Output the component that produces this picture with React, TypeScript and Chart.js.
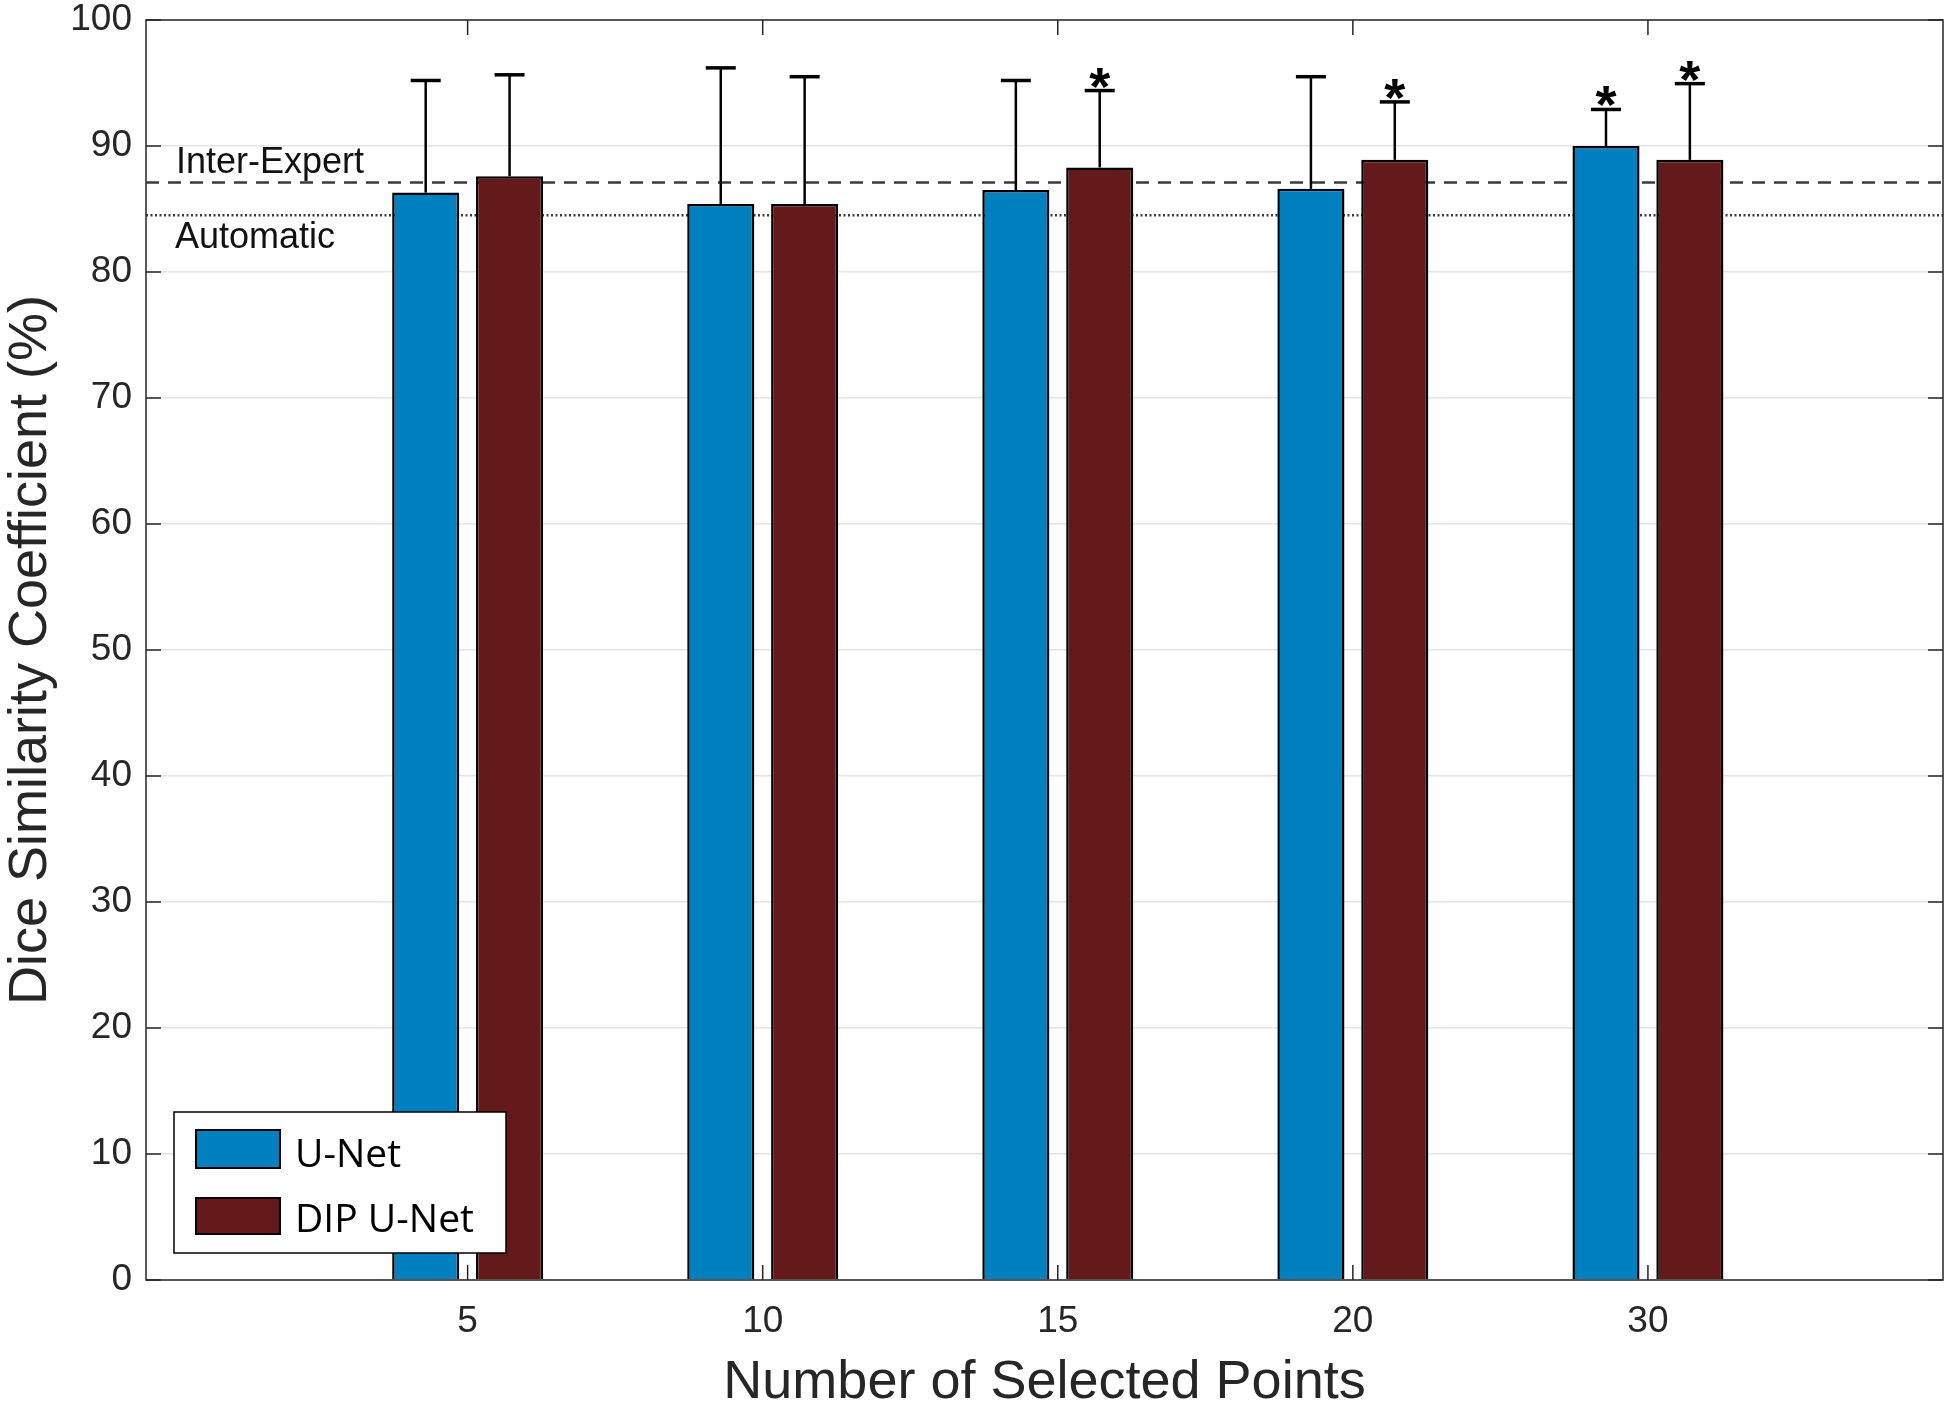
import React, { useEffect, useRef } from 'react';
import { Chart, registerables } from 'chart.js';

Chart.register(...registerables);

// ---- data ----
const categories = ['5', '10', '15', '20', '30'];
const xPositions = [1, 2, 3, 4, 5];
const seriesLabels = ['U-Net', 'DIP U-Net'];
const unetMean = [86.3, 85.4, 86.5, 86.6, 90.0];
const unetSD = [8.9, 10.8, 8.7, 8.9, 2.9];
const dipMean = [87.6, 85.4, 88.3, 88.9, 88.9];
const dipSD = [8.05, 10.1, 6.1, 4.6, 6.05];
const unetSig = [false, false, false, false, true];
const dipSig = [false, false, true, true, true];
const refLabels = ['Inter-Expert', 'Automatic'];
const refValues = [87.1, 84.5];
const yTickValues = [0, 10, 20, 30, 40, 50, 60, 70, 80, 90, 100];

const BLUE = '#0080BF';
const RED = '#641A1B';
const FONT = '"Liberation Sans", Arial, Helvetica, sans-serif';
const TEXT = '#262626';

const means = [unetMean, dipMean];
const sds = [unetSD, dipSD];
const sigs = [unetSig, dipSig];
const colors = [BLUE, RED];

const overlayPlugin = {
  id: 'overlay',
  beforeDatasetsDraw(chart: any) {
    const { ctx, chartArea, scales } = chart;
    const { left, right } = chartArea;
    const y = scales.y;
    ctx.save();
    const yi = y.getPixelForValue(refValues[0]);
    const ya = y.getPixelForValue(refValues[1]);
    ctx.strokeStyle = '#3a3a3a';
    ctx.lineWidth = 2.5;
    ctx.setLineDash([13, 9]);
    ctx.beginPath();
    ctx.moveTo(left, yi);
    ctx.lineTo(right, yi);
    ctx.stroke();
    ctx.setLineDash([2, 2.5]);
    ctx.beginPath();
    ctx.moveTo(left, ya);
    ctx.lineTo(right, ya);
    ctx.stroke();
    ctx.setLineDash([]);
    ctx.fillStyle = '#111';
    ctx.font = '36px ' + FONT;
    ctx.textAlign = 'left';
    ctx.textBaseline = 'alphabetic';
    ctx.fillText(refLabels[0], left + 30, yi - 10);
    ctx.fillText(refLabels[1], left + 29, ya + 33);
    ctx.restore();
  },
  afterDatasetsDraw(chart: any) {
    const { ctx, scales } = chart;
    const y = scales.y;
    ctx.save();
    for (let d = 0; d < 2; d++) {
      const meta = chart.getDatasetMeta(d);
      meta.data.forEach((bar: any, i: number) => {
        const top = y.getPixelForValue(means[d][i] + sds[d][i]);
        const x = bar.x;
        ctx.strokeStyle = '#000';
        ctx.lineWidth = 2.5;
        ctx.beginPath();
        ctx.moveTo(x, bar.y);
        ctx.lineTo(x, top);
        ctx.stroke();
        ctx.lineWidth = 3.5;
        ctx.beginPath();
        ctx.moveTo(x - 15, top);
        ctx.lineTo(x + 15, top);
        ctx.stroke();
        if (sigs[d][i]) {
          ctx.fillStyle = '#000';
          ctx.font = 'bold 54px ' + FONT;
          ctx.textAlign = 'center';
          ctx.textBaseline = 'alphabetic';
          ctx.fillText('*', x, top + 14);
        }
      });
    }
    ctx.restore();
  },
  afterDraw(chart: any) {
    const { ctx, chartArea, scales } = chart;
    const { left, right, top, bottom } = chartArea;
    ctx.save();
    ctx.strokeStyle = TEXT;
    ctx.lineWidth = 1.5;
    ctx.strokeRect(left, top, right - left, bottom - top);
    ctx.beginPath();
    yTickValues.forEach((v) => {
      const py = scales.y.getPixelForValue(v);
      ctx.moveTo(left, py);
      ctx.lineTo(left + 15, py);
      ctx.moveTo(right, py);
      ctx.lineTo(right - 15, py);
    });
    xPositions.forEach((v) => {
      const px = scales.x.getPixelForValue(v);
      ctx.moveTo(px, bottom);
      ctx.lineTo(px, bottom - 15);
      ctx.moveTo(px, top);
      ctx.lineTo(px, top + 15);
    });
    ctx.stroke();

    // legend
    const lx = 174, ly = 1112, lw = 332, lh = 141;
    ctx.fillStyle = '#fff';
    ctx.fillRect(lx, ly, lw, lh);
    ctx.strokeStyle = '#000';
    ctx.lineWidth = 1.5;
    ctx.strokeRect(lx, ly, lw, lh);
    const rows = [
      { sy: 1130, sh: 38, base: 1167 },
      { sy: 1198, sh: 36, base: 1232 },
    ];
    rows.forEach((r, i) => {
      ctx.fillStyle = colors[i];
      ctx.fillRect(196, r.sy, 84, r.sh);
      ctx.strokeStyle = '#000';
      ctx.lineWidth = 2;
      ctx.strokeRect(196, r.sy, 84, r.sh);
      ctx.fillStyle = '#000';
      ctx.font = '39px "Open Sans", "Noto Sans", sans-serif';
      ctx.textAlign = 'left';
      ctx.textBaseline = 'alphabetic';
      ctx.fillText(seriesLabels[i], 295, r.base);
    });
    ctx.restore();
  },
};

export default function App() {
  const ref = useRef<HTMLCanvasElement>(null);
  useEffect(() => {
    document.body.style.margin = '0';
    const canvas = ref.current!;
    const chart = new Chart(canvas, {
      type: 'bar',
      data: {
        datasets: [0, 1].map((d) => ({
          label: seriesLabels[d],
          data: xPositions.map((x, i) => ({ x, y: means[d][i] })),
          backgroundColor: colors[d],
          borderColor: '#000',
          borderWidth: 2.5,
          categoryPercentage: 0.5685,
          barPercentage: 0.8,
        })),
      },
      options: {
        animation: false,
        responsive: false,
        devicePixelRatio: 1,
        layout: { padding: { left: 0, top: 20, right: 7, bottom: 0 } },
        plugins: { legend: { display: false }, tooltip: { enabled: false } },
        scales: {
          x: {
            type: 'linear',
            offset: false,
            min: -0.09,
            max: 6.0,
            grid: { display: false },
            border: { display: false },
            afterBuildTicks: (s: any) => {
              s.ticks = xPositions.map((v) => ({ value: v }));
            },
            afterFit: (s: any) => {
              s.height = 127;
              s.paddingLeft = 0;
              s.paddingRight = 0;
            },
            ticks: {
              autoSkip: false,
              padding: 12,
              color: TEXT,
              font: { family: FONT, size: 37 },
              callback: (v: any) => {
                const i = xPositions.indexOf(Number(v));
                return i >= 0 ? categories[i] : '';
              },
            },
            title: {
              display: true,
              text: 'Number of Selected Points',
              color: TEXT,
              font: { family: FONT, size: 54, lineHeight: 0.9 },
              padding: { top: 0, bottom: 0 },
            },
          },
          y: {
            min: 0,
            max: 100,
            grid: { color: '#e4e4e4', lineWidth: 1.5, drawTicks: false },
            border: { display: false },
            afterFit: (s: any) => {
              s.width = 146;
              s.paddingTop = 0;
              s.paddingBottom = 0;
            },
            ticks: {
              stepSize: 10,
              padding: 14,
              color: TEXT,
              font: { family: FONT, size: 37 },
            },
            title: {
              display: true,
              text: 'Dice Similarity Coefficient (%)',
              color: TEXT,
              font: { family: FONT, size: 54, lineHeight: 1 },
              padding: { top: 4, bottom: 0 },
            },
          },
        },
      },
      plugins: [overlayPlugin],
    } as any);
    return () => chart.destroy();
  }, []);
  return (
    <div style={{ width: 1950, height: 1407, background: '#fff' }}>
      <canvas ref={ref} width={1950} height={1407} style={{ display: 'block' }} />
    </div>
  );
}
